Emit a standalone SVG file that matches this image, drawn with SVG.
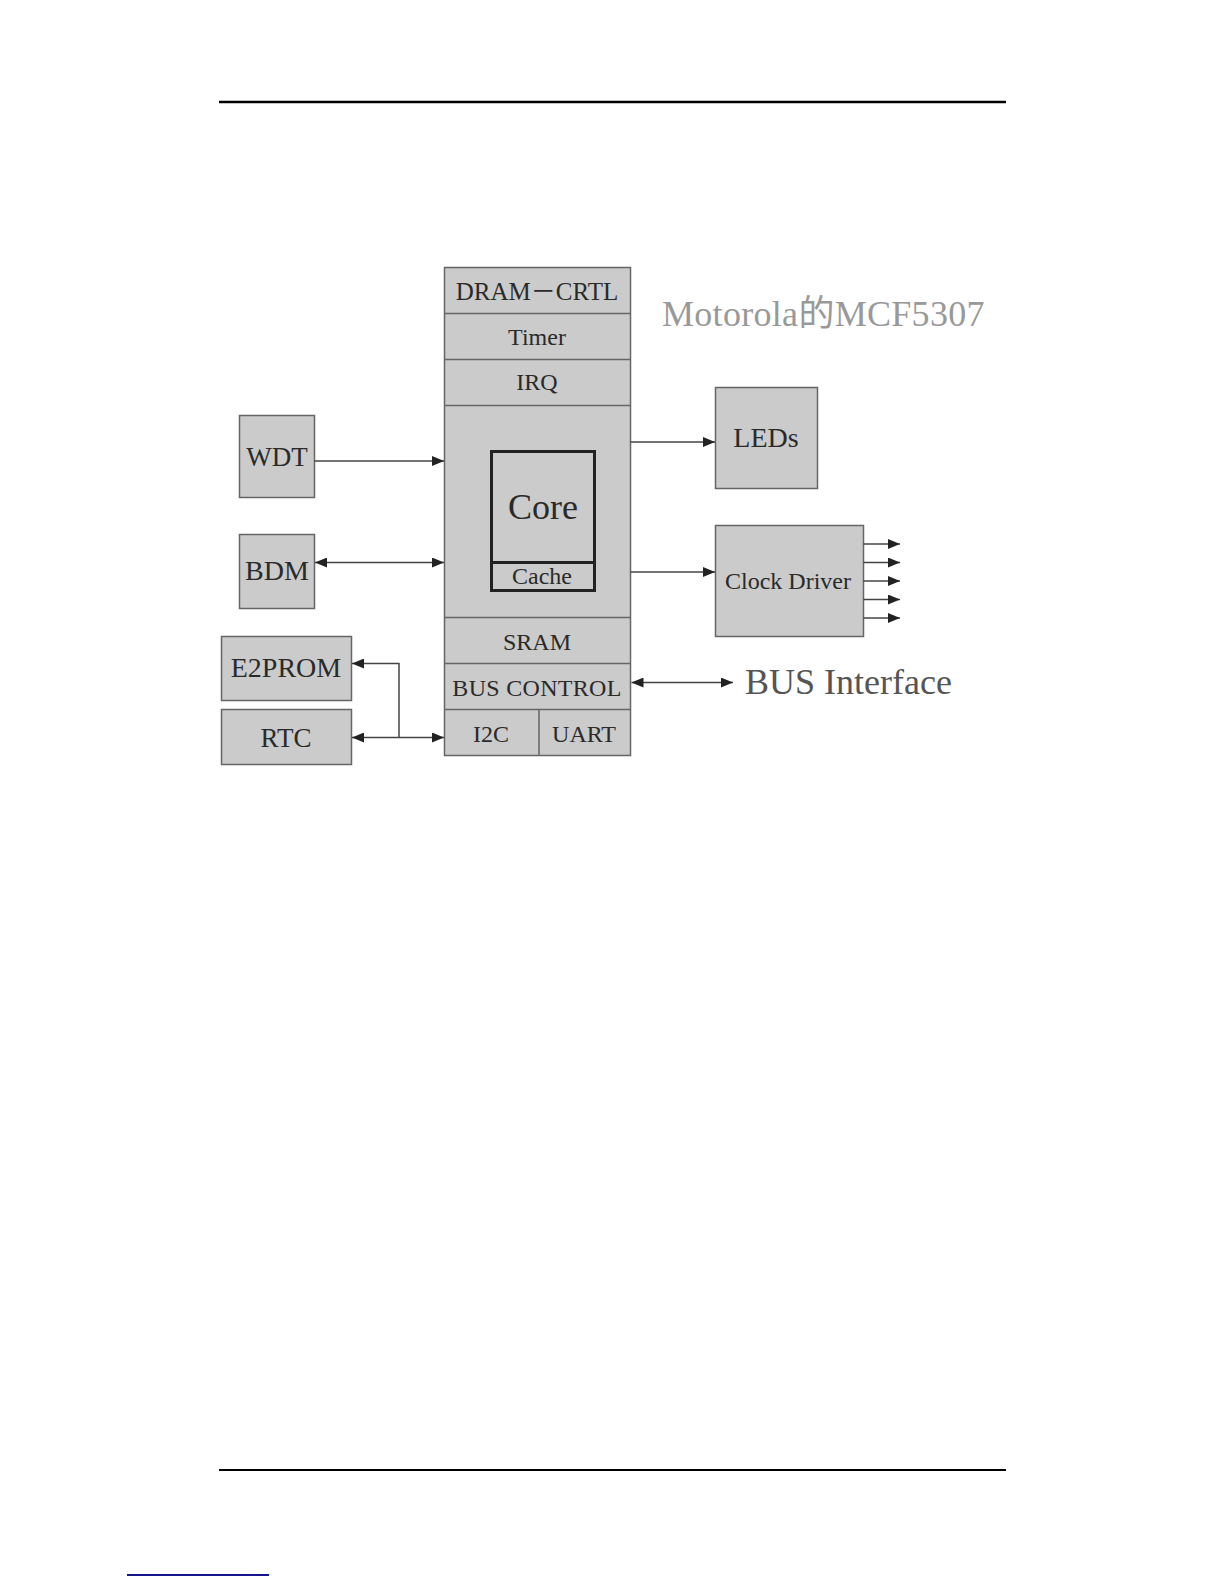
<svg xmlns="http://www.w3.org/2000/svg" width="1224" height="1584" viewBox="0 0 1224 1584">
<style>
  .box{fill:#cbcbcb;stroke:#666;stroke-width:1.5}
  .div{stroke:#666;stroke-width:1.5;fill:none}
  .t{font-family:"Liberation Serif","Times New Roman","Noto Sans CJK SC",serif;fill:#2a2a2a;text-anchor:middle}
  .c{stroke:#444;stroke-width:1.5;fill:none}
</style>
<defs>
  <marker id="ah" viewBox="0 0 12 10" refX="12" refY="5" markerWidth="12" markerHeight="10" markerUnits="userSpaceOnUse" orient="auto-start-reverse">
    <path d="M0,0 L12,5 L0,10 Z" fill="#222"/>
  </marker>
</defs>
<rect width="1224" height="1584" fill="#fff"/>
<line x1="219" y1="102" x2="1006" y2="102" stroke="#000" stroke-width="2.5"/>
<line x1="219" y1="1470" x2="1006" y2="1470" stroke="#000" stroke-width="2"/>
<line x1="127" y1="1575" x2="269" y2="1575" stroke="#14148c" stroke-width="2"/>

<g id="mcf5307">
  <rect class="box" x="444.5" y="267.5" width="186" height="488"/>
  <line class="div" x1="444.5" y1="313.5" x2="630.5" y2="313.5"/>
  <line class="div" x1="444.5" y1="359.5" x2="630.5" y2="359.5"/>
  <line class="div" x1="444.5" y1="405.5" x2="630.5" y2="405.5"/>
  <line class="div" x1="444.5" y1="617.5" x2="630.5" y2="617.5"/>
  <line class="div" x1="444.5" y1="663.5" x2="630.5" y2="663.5"/>
  <line class="div" x1="444.5" y1="709.5" x2="630.5" y2="709.5"/>
  <line class="div" x1="539" y1="709.5" x2="539" y2="755.5"/>
  <text class="t" x="537" y="300" font-size="25">DRAM－CRTL</text>
  <text class="t" x="537" y="345" font-size="24">Timer</text>
  <text class="t" x="537" y="390" font-size="24">IRQ</text>
  <text class="t" x="537" y="650" font-size="24">SRAM</text>
  <text class="t" x="537" y="696" font-size="24" letter-spacing="0.3">BUS CONTROL</text>
  <text class="t" x="491" y="741.5" font-size="24">I2C</text>
  <text class="t" x="584" y="741.5" font-size="24">UART</text>
</g>
<g id="core">
  <rect x="491.5" y="451.5" width="103" height="139" fill="none" stroke="#222" stroke-width="3"/>
  <line x1="491.5" y1="562.5" x2="594.5" y2="562.5" stroke="#222" stroke-width="3"/>
  <text class="t" x="543" y="519" font-size="36">Core</text>
  <text class="t" x="542" y="584" font-size="24">Cache</text>
</g>
<g id="wdt">
  <rect class="box" x="239.5" y="415.5" width="75" height="82"/>
  <text class="t" x="277" y="466" font-size="27">WDT</text>
</g>
<g id="bdm">
  <rect class="box" x="239.5" y="534.5" width="75" height="74"/>
  <text class="t" x="277" y="580" font-size="28">BDM</text>
</g>
<g id="e2prom">
  <rect class="box" x="221.5" y="636.5" width="130" height="64"/>
  <text class="t" x="286" y="677" font-size="28">E2PROM</text>
</g>
<g id="rtc">
  <rect class="box" x="221.5" y="709.5" width="130" height="55"/>
  <text class="t" x="286" y="747" font-size="27">RTC</text>
</g>
<g id="leds">
  <rect class="box" x="715.5" y="387.5" width="102" height="101"/>
  <text class="t" x="766" y="447" font-size="28">LEDs</text>
</g>
<g id="clockdriver">
  <rect class="box" x="715.5" y="525.5" width="148" height="111"/>
  <text class="t" x="788" y="589" font-size="24">Clock Driver</text>
</g>
<g id="title">
  <text x="662" y="326" font-size="36" letter-spacing="0.3" fill="#999" font-family="'Liberation Serif','Times New Roman','Noto Sans CJK SC',serif">Motorola的MCF5307</text>
</g>
<g id="businterface">
  <text x="745" y="694" font-size="36" fill="#555" font-family="'Liberation Serif','Times New Roman',serif">BUS Interface</text>
</g>
<g id="connectors">
  <line class="c" x1="314.5" y1="461" x2="444" y2="461" marker-end="url(#ah)"/>
  <line class="c" x1="315" y1="562.5" x2="444" y2="562.5" marker-start="url(#ah)" marker-end="url(#ah)"/>
  <line class="c" x1="630.5" y1="442" x2="715" y2="442" marker-end="url(#ah)"/>
  <line class="c" x1="630.5" y1="572" x2="715" y2="572" marker-end="url(#ah)"/>
  <line class="c" x1="863.5" y1="544" x2="900" y2="544" marker-end="url(#ah)"/>
  <line class="c" x1="863.5" y1="562.5" x2="900" y2="562.5" marker-end="url(#ah)"/>
  <line class="c" x1="863.5" y1="581" x2="900" y2="581" marker-end="url(#ah)"/>
  <line class="c" x1="863.5" y1="599.5" x2="900" y2="599.5" marker-end="url(#ah)"/>
  <line class="c" x1="863.5" y1="618" x2="900" y2="618" marker-end="url(#ah)"/>
  <line class="c" x1="631.5" y1="682.5" x2="733" y2="682.5" marker-start="url(#ah)" marker-end="url(#ah)"/>
  <line class="c" x1="352" y1="737.5" x2="444" y2="737.5" marker-start="url(#ah)" marker-end="url(#ah)"/>
  <polyline class="c" points="399,737.5 399,663.5 352,663.5" marker-end="url(#ah)"/>
</g>
</svg>
